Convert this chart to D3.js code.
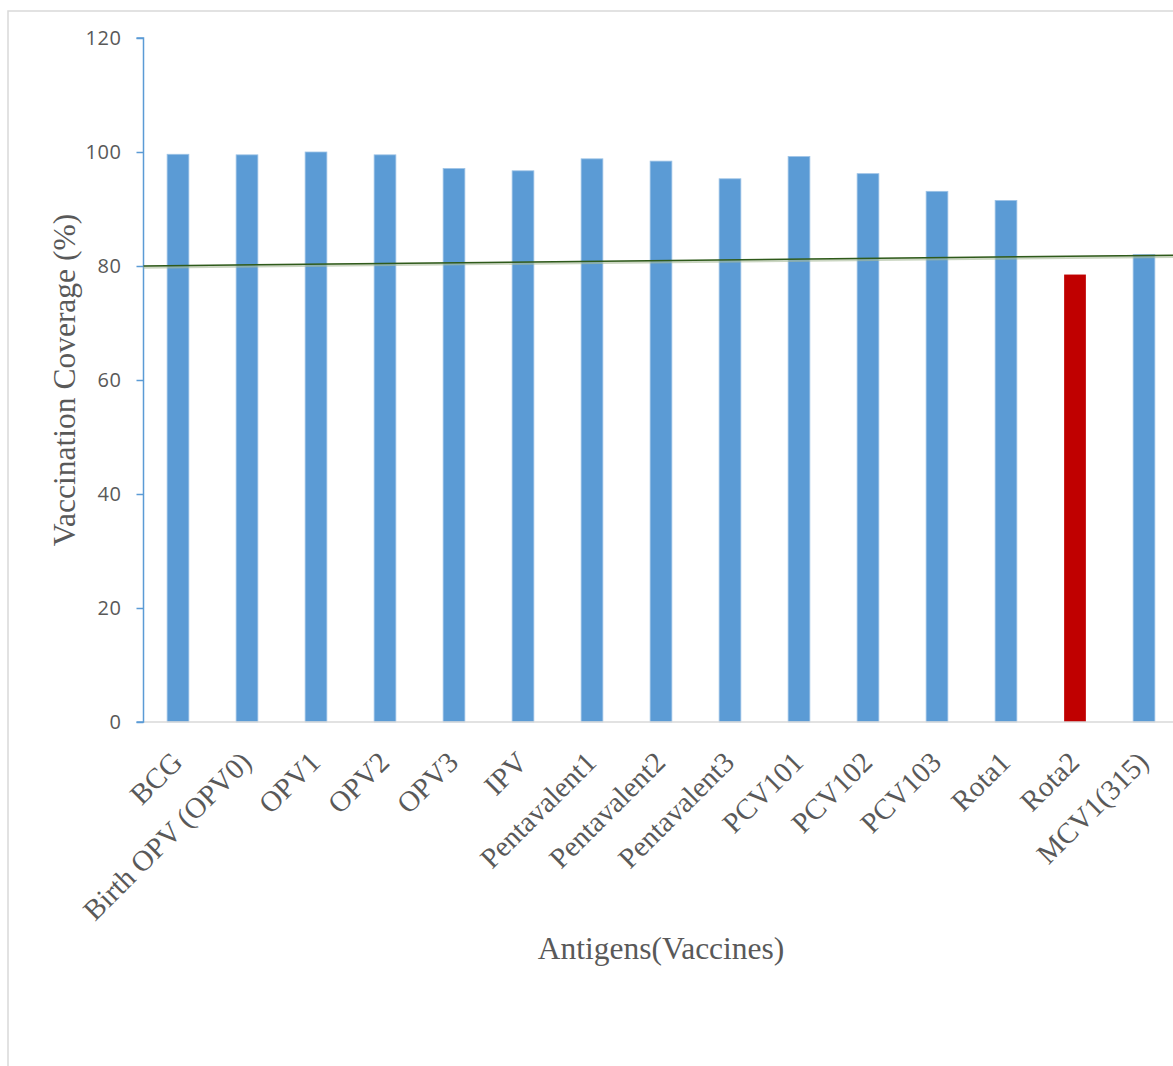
<!DOCTYPE html>
<html>
<head>
<meta charset="utf-8">
<script src="https://cdn.jsdelivr.net/npm/d3@7"></script>
<style>
  html, body { margin: 0; padding: 0; background: #ffffff; }
  svg { display: block; }
</style>
</head>
<body>
<svg id="chart" width="1173" height="1066"></svg>
<script>
// Antigens and their coverage (%)
const antigens = ["BCG", "Birth OPV (OPV0)", "OPV1", "OPV2", "OPV3", "IPV",
  "Pentavalent1", "Pentavalent2", "Pentavalent3", "PCV101", "PCV102", "PCV103",
  "Rota1", "Rota2", "MCV1(315)"];
const coverage = [99.6, 99.5, 100, 99.5, 97.1, 96.7, 98.8, 98.4, 95.3, 99.2, 96.2, 93.1, 91.5, 78.5, 82.0];
// Antigen highlighted as below the target
const highlighted = ["Rota2"];
// Target line: value at the left and right edges of the plot
const targetLine = [80, 81.9];
const yTicks = [0, 20, 40, 60, 80, 100, 120];

(function draw() {
  const svg = d3.select("#chart");
  const W = 1173, H = 1066;
  const plotLeft = 143.5, plotTop = 38, plotBottom = 722, step = 69;
  const plotRight = plotLeft + step * antigens.length;
  const serif = "'Liberation Serif', 'Times New Roman', serif";

  // chart frame
  svg.append("path")
    .attr("d", `M8,${H}V11H${W + 2}`)
    .attr("fill", "none").attr("stroke", "#d9d9d9").attr("stroke-width", 1.5);

  const x = d3.scaleBand().domain(antigens).range([plotLeft, plotRight]).padding(0);
  const y = d3.scaleLinear().domain([0, 120]).range([plotBottom, plotTop]);
  const barW = x.bandwidth() * 0.315;

  // bars
  svg.append("g").selectAll("rect")
    .data(antigens)
    .join("rect")
    .attr("x", d => x(d) + x.bandwidth() / 2 - barW / 2)
    .attr("y", (d, i) => y(coverage[i]))
    .attr("width", barW)
    .attr("height", (d, i) => y(0) - y(coverage[i]))
    .attr("fill", d => highlighted.includes(d) ? "#c00000" : "#5b9bd5")
    .attr("stroke", d => highlighted.includes(d) ? "none" : "#9dc3e6")
    .attr("stroke-width", 0.8);

  // x axis line
  svg.append("line")
    .attr("x1", plotLeft).attr("x2", plotRight)
    .attr("y1", y(0)).attr("y2", y(0))
    .attr("stroke", "#d9d9d9").attr("stroke-width", 1.5);

  // y axis
  const yAxis = d3.axisLeft(y).tickValues(yTicks).tickSize(7).tickPadding(15)
    .tickFormat(d3.format("d"));
  const gy = svg.append("g").attr("transform", `translate(${plotLeft},0)`).call(yAxis);
  gy.select(".domain").attr("stroke", "#5b9bd5").attr("stroke-width", 1.5)
    .attr("d", `M-7,${plotTop}H0V${plotBottom}H-7`);
  gy.selectAll(".tick line").attr("stroke", "#5b9bd5").attr("stroke-width", 1.5);
  gy.selectAll(".tick text")
    .attr("fill", "#595959")
    .style("font-family", "'Open Sans', sans-serif")
    .style("font-size", "20px")
    .style("letter-spacing", "0.6px");

  // target line (soft shadow + line)
  const tx = d3.scaleLinear().domain([0, 1]).range([plotLeft, plotRight]);
  const line = d3.line().x((d, i) => tx(i)).y(d => y(d));
  svg.append("path").datum(targetLine)
    .attr("d", line)
    .attr("transform", "translate(0,1.2)")
    .attr("fill", "none").attr("stroke", "#a8bb9a").attr("stroke-width", 3).attr("opacity", 0.6);
  svg.append("path").datum(targetLine)
    .attr("d", line)
    .attr("fill", "none").attr("stroke", "#2f5a1b").attr("stroke-width", 1.5);

  // x tick labels, rotated
  svg.append("g").selectAll("text")
    .data(antigens)
    .join("text")
    .attr("transform", d => `translate(${x(d) + x.bandwidth() / 2 + 6},${plotBottom + 42}) rotate(-45)`)
    .attr("text-anchor", "end")
    .attr("fill", "#595959")
    .style("font-family", serif)
    .style("font-size", "29px")
    .text(d => d);

  // axis titles
  svg.append("text")
    .attr("x", (plotLeft + plotRight) / 2).attr("y", 959)
    .attr("text-anchor", "middle")
    .attr("fill", "#595959")
    .style("font-family", serif)
    .style("font-size", "31.5px")
    .text("Antigens(Vaccines)");

  svg.append("text")
    .attr("transform", `translate(75,380) rotate(-90)`)
    .attr("text-anchor", "middle")
    .attr("fill", "#595959")
    .style("font-family", serif)
    .style("font-size", "31.5px")
    .text("Vaccination Coverage (%)");
})();
</script>
</body>
</html>
